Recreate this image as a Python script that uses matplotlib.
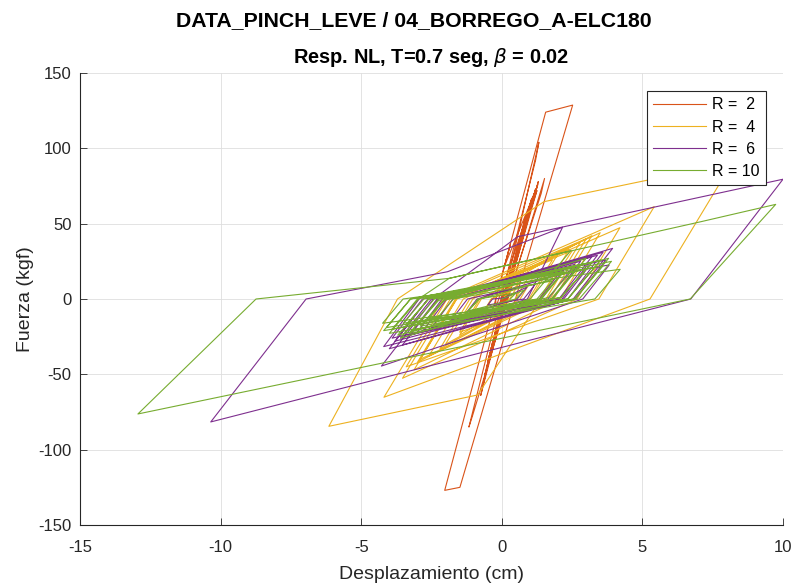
import matplotlib
matplotlib.use("Agg")
import matplotlib.pyplot as plt

plt.rcParams['font.family'] = ['Liberation Sans', 'DejaVu Sans']
plt.rcParams['mathtext.fontset'] = 'dejavusans'
plt.rcParams['axes.unicode_minus'] = False

# hysteresis loops (displacement cm, force kgf)
x_r2 = [0.00, 0.35, 0.12, -0.20, -0.02, 0.60, 0.35, -0.35, -0.10, 0.85, 0.60, -0.50, -0.25,
        1.05, 0.80, -0.20, -0.22, 1.56, 2.52, -1.49, -2.03, 0.30, 0.10, 1.20, 0.95, -0.15,
        0.30, 1.32, 1.20, -1.17, -1.05, 1.52, 1.40, -0.40, -0.20, 1.25, 1.00, -0.45, -0.20,
        1.15, 0.90, -0.75, -0.55, 1.30, 1.05, -0.60, -0.35, 1.10, 0.88, -0.30, -0.10, 0.90,
        0.65, -0.15, 0.05, 0.50, 0.30, 0.90, -0.10, 0.05, 1.15, 0.95, -0.35, -0.15, 1.00,
        0.80, -0.55, -0.35, 1.20, 1.00, -0.25, -0.05, 0.75, 0.55, -0.65, -0.45, 1.10, 0.90,
        -0.20, 0.00, 0.60, 0.40, 1.28, 1.08, -0.50, -0.28, 1.18, 0.98, -0.38, -0.18, 1.05,
        0.85, -0.08, 0.10, 0.70, 0.50, -0.10, 0.00]
y_r2 = [0, 20, 4, -22, -10, 36, 18, -30, -16, 55, 38, -42, -25,
        66, 50, -5, 0, 124, 128.7, -125, -127, 36, 22, 72, 58, -16,
        20, 104, 92, -85, -78, 80, 70, -34, -22, 72, 58, -38, -22,
        70, 54, -64, -48, 78, 62, -50, -32, 68, 52, -28, -14, 56,
        40, -18, -4, 28, 14, 52, -14, -4, 70, 57, -32, -19, 62,
        48, -46, -33, 73, 60, -24, -11, 44, 30, -55, -40, 66, 54,
        -19, -6, 35, 22, 76, 63, -42, -26, 71, 58, -33, -18, 64,
        51, -12, 2, 40, 27, -12, 0]

x_r4 = [0.00, 0.60, 0.28, -0.80, -0.35, 1.30, 0.65, -1.50, -0.73, 2.00, 1.03, -2.20, -1.14,
        2.80, 1.57, -2.90, -1.61, 3.50, 2.08, -3.12, -1.60, 4.20, 2.67, -3.53, -1.83, 2.50,
        1.40, -0.86, -6.15, -3.71, 1.50, 8.20, 5.27, -4.19, -2.09, 5.42, 3.45, -3.40, -1.95,
        3.00, 1.71, -2.60, -1.37, 2.40, 1.34, -3.00, -1.65, 1.80, 0.96, -2.00, -1.03, 3.20,
        1.85, -1.50, -0.79, 1.00, 0.48, -0.70, -0.38, 0.40]
y_r4 = [0, 10, 0, -14, 0, 20, 0, -24, 0, 30, 0, -33, 0,
        38, 0, -40, 0, 44, 0, -47, 0, 47.3, 0, -52.6, 0, 32,
        0, -63.7, -84.5, 0, 64.6, 90.6, 0, -65.2, 0, 61.3, 0, -45, 0,
        40, 0, -38, 0, 33, 0, -42, 0, 26, 0, -30, 0, 42,
        0, -22, 0, 16, 0, -10, 0, 6]

x_r6 = [0.00, 0.90, 0.55, -1.30, -0.88, 2.00, 1.33, -2.50, -1.70, 3.10, 2.10, -3.53, -2.26,
        3.94, 2.54, -4.20, -2.90, 3.82, 2.88, -4.28, -2.43, 0.56, 10.00, 6.72, -10.35, -6.96,
        -1.93, 2.16, 0.91, -3.60, -2.50, 2.80, 1.76, -3.80, -2.63, 3.40, 2.20, -3.00, -2.08,
        3.70, 2.62, -3.30, -2.30, 3.60, 2.31, -4.00, -2.62, 2.60, 1.64, -2.80, -1.92, 3.20,
        2.03, -3.90, -2.82, 2.20, 1.41, -1.80, -1.22, 1.20, 0.78, -0.50, -0.33, 0.20]
y_r6 = [0, 8, 0, -10, 0, 16, 0, -19, 1, 24, -1, -30.5, 0,
        33.6, 0, -31.6, 1, 22.6, 0, -44.5, 0, 41.3, 79.5, 0, -81.6, 0,
        18.1, 47.6, 0, -26, 0, 25, -1, -28, 0, 29, 0, -22, 1,
        26, 0, -24, 0, 31, -1, -33, 0, 23, 0, -21, 1, 28,
        0, -26, 0, 19, 0, -14, 0, 10, 0, -4, 0, 1]

x_r10 = [0.00, 0.80, 0.50, -1.20, -0.80, 2.00, 1.35, -2.60, -2.00, 3.00, 2.10, -3.40, -2.60,
         3.52, 2.34, -4.24, -3.51, 4.21, 3.31, -4.00, -2.96, -1.87, 7.08, 9.74, 6.70, -12.94,
         -8.74, -1.87, 2.45, 1.00, -3.60, -2.40, 3.20, 2.10, -3.90, -3.00, 3.60, 2.60, -3.30,
         -2.25, 3.00, 1.80, -4.10, -3.24, 2.60, 1.65, -3.70, -2.60, 3.90, 2.75, -2.90, -2.08,
         3.30, 2.35, -4.20, -3.25, 2.20, 1.40, -3.20, -2.25, 3.80, 2.57, -3.50, -2.77, 2.80,
         1.75, -2.40, -1.72, 1.80, 1.25, -1.20, -0.84, 0.50, 0.30]
y_r10 = [0, 6, 0, -8, 0, 14, 0, -13, 0, 20, 1, -17, 0,
         25.9, 0, -16.1, 0, 19.7, 0, -22.8, 0, 13.7, 51.3, 62.8, 0, -76.3,
         0, 13.7, 32, 0, -26, 0, 24, 1, -20, 0, 22, 0, -23,
         -1, 27, 0, -19, 0, 21, 1, -24, 0, 25, 0, -18, -1,
         21, 0, -21, 0, 18, 0, -21, 0, 27, 0, -16, 0, 23,
         0, -15, 0, 12, 0, -8, 0, 4, 0]

series = [
    ('R =  2', x_r2, y_r2, '#D95319'),
    ('R =  4', x_r4, y_r4, '#EDB120'),
    ('R =  6', x_r6, y_r6, '#7E2F8E'),
    ('R = 10', x_r10, y_r10, '#77AC30'),
]

fig = plt.figure(figsize=(7.93, 5.85), dpi=100)
ax = fig.add_axes([80/793, 60/585, 703/793, 452/585])

for label, xs, ys, col in series:
    ax.plot(xs, ys, color=col, lw=0.8, label=label)

ax.set_xlim(-15, 10)
ax.set_ylim(-150, 150)
ax.set_xticks([-15, -10, -5, 0, 5, 10])
ax.set_yticks([-150, -100, -50, 0, 50, 100, 150])
ax.grid(True, color='#dedede', lw=0.6)
ax.set_axisbelow(True)
for s in ['top', 'right']:
    ax.spines[s].set_visible(False)
for s in ['left', 'bottom']:
    ax.spines[s].set_color('#262626')
    ax.spines[s].set_linewidth(0.8)
ax.tick_params(direction='in', length=5, width=0.6, colors='#262626', labelsize=12)
ax.tick_params(axis='x', pad=10.5)
ax.tick_params(axis='y', pad=6)

ax.set_xlabel('Desplazamiento (cm)', fontsize=14, color='#262626', labelpad=8)
ax.set_ylabel('Fuerza (kgf)', fontsize=14, color='#262626', labelpad=3)
ax.set_title(r'Resp. NL, T=0.7 seg, $\beta$ = 0.02', fontsize=14.4, fontweight='bold',
             color='#000000', pad=7)
fig.text(0.522, 0.965, 'DATA_PINCH_LEVE / 04_BORREGO_A-ELC180', ha='center', va='center',
         fontsize=15.3, fontweight='bold')

leg = ax.legend(loc='upper right', bbox_to_anchor=(0.9758, 0.9602), borderaxespad=0,
                fontsize=11.5, handlelength=3.3, handletextpad=0.4, labelspacing=0.45,
                borderpad=0.4, fancybox=False, framealpha=1, edgecolor='#262626')
leg.get_frame().set_linewidth(0.8)

fig.savefig('out.png', dpi=100)
